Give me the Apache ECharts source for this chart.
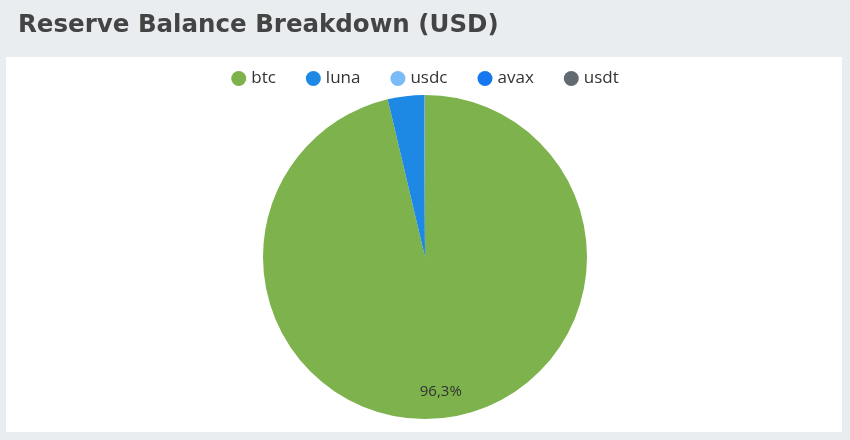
<!DOCTYPE html>
<html><head><meta charset="utf-8">
<script src="https://cdn.jsdelivr.net/npm/echarts@6/dist/echarts.min.js"></script>
<style>html,body{margin:0;padding:0;background:#e9edf0}#c{width:850px;height:440px}</style>
</head><body><div id="c"></div>
<script>
const titleText = 'Reserve Balance Breakdown (USD)';
const categories = ['btc', 'luna', 'usdc', 'avax', 'usdt'];
const values = [96.3, 3.6, 0.05, 0.03, 0.02];
const colors = ['#7db24c', '#1e88e5', '#78bbf6', '#1677ee', '#636b70'];

const total = values.reduce((a, b) => a + b, 0);
const fmtPct = p => p.toFixed(1).replace('.', ',') + '%';
const data = categories.map((n, i) => ({ name: n, value: values[i] }));

const chart = echarts.init(document.getElementById('c'), null, { renderer: 'canvas' });
chart.setOption({
  backgroundColor: '#e9edf0',
  animation: false,
  color: colors,
  title: {
    text: titleText, left: 13, top: 8,
    textStyle: { fontFamily: 'DejaVu Sans', fontWeight: 'bold', fontSize: 24.5, color: '#444' }
  },
  graphic: [{ type: 'rect', left: 6, top: 57, shape: { width: 836, height: 375 }, style: { fill: '#fff' }, z: -10 }],
  legend: {
    top: 65, left: 'center', icon: 'circle', itemWidth: 15, itemHeight: 15, itemGap: 30,
    textStyle: { fontFamily: 'Open Sans', fontSize: 17, color: '#333' },
    data: categories
  },
  series: [{
    type: 'pie', center: [425, 257], radius: [0, 162], startAngle: 90, clockwise: true,
    data: data, label: { show: false }, labelLine: { show: false },
    itemStyle: { borderWidth: 0 }, emphasis: { disabled: true }
  }, {
    type: 'pie', center: [425, 257], radius: [104, 162], startAngle: 90, clockwise: true, silent: true,
    data: data,
    itemStyle: { color: 'rgba(0,0,0,0)' },
    label: {
      show: true, position: 'inside', color: '#333', fontFamily: 'Open Sans', fontSize: 15,
      formatter: p => p.percent > 5 ? fmtPct(p.value / total * 100) : ''
    },
    labelLine: { show: false }, emphasis: { disabled: true }
  }]
});
</script></body></html>
